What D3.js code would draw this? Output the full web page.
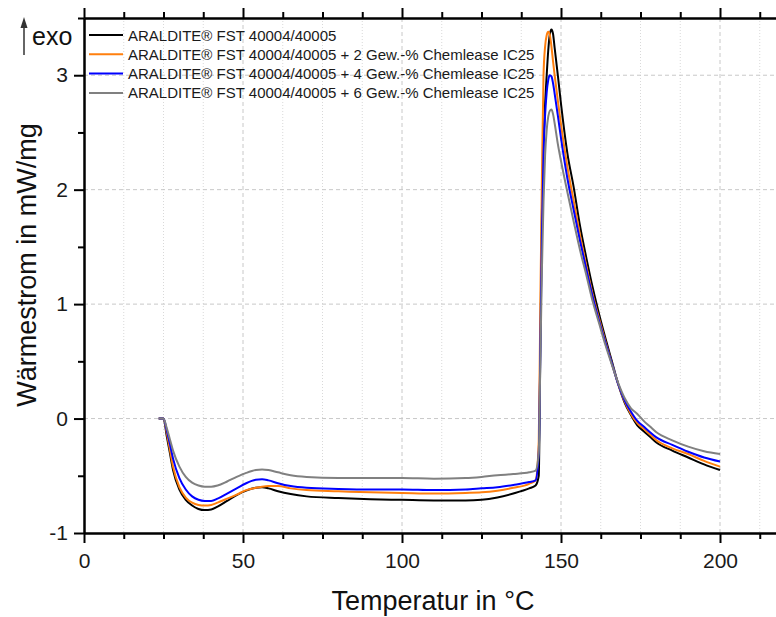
<!DOCTYPE html>
<html>
<head>
<meta charset="utf-8">
<style>
  body { margin: 0; background: white; font-family: "Liberation Sans", Arial, sans-serif; }
  svg { display: block; }
</style>
</head>
<body>
<svg id="chart"></svg>
<script src="https://cdn.jsdelivr.net/npm/d3@7/dist/d3.min.js"></script>
<script>
// temperature points (°C) shared by all four curves
var temps = [23.5, 25, 26, 27, 28, 30, 32, 34, 36, 38, 40, 42, 45, 48, 51, 54, 56, 58, 61, 65, 70, 80, 90, 100, 110, 120, 125, 130, 135, 140, 142, 143, 143.5, 144, 144.5, 145, 145.5, 146, 146.5, 147, 147.5, 148, 149, 150, 152, 154, 156, 158, 160, 162, 164, 166, 168, 170, 172, 174, 176, 178, 180, 185, 190, 195, 200];

// heat flow (mW/mg) for each sample
var pure = [0, 0, -0.15, -0.3, -0.45, -0.62, -0.71, -0.76, -0.79, -0.8, -0.795, -0.77, -0.72, -0.67, -0.63, -0.605, -0.6, -0.61, -0.635, -0.66, -0.68, -0.695, -0.705, -0.71, -0.715, -0.715, -0.71, -0.69, -0.655, -0.61, -0.585, -0.5, 0.6, 1.8, 2.4, 2.75, 3.0, 3.22, 3.36, 3.4, 3.36, 3.24, 3.0, 2.75, 2.32, 2.02, 1.68, 1.4, 1.14, 0.91, 0.7, 0.5, 0.3, 0.14, 0.03, -0.06, -0.11, -0.16, -0.21, -0.28, -0.34, -0.4, -0.45];
var plus2 = [0, 0, -0.12, -0.27, -0.42, -0.6, -0.69, -0.735, -0.755, -0.76, -0.755, -0.735, -0.7, -0.665, -0.625, -0.605, -0.595, -0.59, -0.59, -0.61, -0.625, -0.635, -0.645, -0.65, -0.655, -0.65, -0.645, -0.63, -0.605, -0.57, -0.54, -0.2, 1.0, 2.1, 3.0, 3.25, 3.35, 3.38, 3.35, 3.25, 3.12, 3.0, 2.78, 2.57, 2.2, 1.9, 1.6, 1.33, 1.08, 0.87, 0.67, 0.48, 0.3, 0.15, 0.04, -0.04, -0.09, -0.14, -0.19, -0.26, -0.31, -0.37, -0.42];
var plus4 = [0, 0, -0.1, -0.22, -0.35, -0.52, -0.62, -0.68, -0.71, -0.72, -0.72, -0.7, -0.655, -0.61, -0.565, -0.535, -0.53, -0.54, -0.565, -0.59, -0.605, -0.615, -0.62, -0.62, -0.625, -0.62, -0.61, -0.6, -0.58, -0.555, -0.54, -0.3, 0.6, 1.6, 2.3, 2.65, 2.85, 2.96, 3.0, 2.99, 2.93, 2.84, 2.65, 2.45, 2.1, 1.82, 1.55, 1.3, 1.06, 0.85, 0.66, 0.48, 0.3, 0.16, 0.06, -0.02, -0.07, -0.12, -0.165, -0.23, -0.29, -0.34, -0.375];
var plus6 = [0, 0, -0.08, -0.18, -0.28, -0.42, -0.51, -0.56, -0.585, -0.595, -0.595, -0.585, -0.55, -0.51, -0.475, -0.45, -0.445, -0.45, -0.47, -0.495, -0.51, -0.52, -0.52, -0.52, -0.525, -0.52, -0.51, -0.495, -0.485, -0.47, -0.455, -0.3, 0.5, 1.3, 1.9, 2.3, 2.52, 2.64, 2.69, 2.7, 2.66, 2.58, 2.4, 2.25, 1.98, 1.72, 1.47, 1.25, 1.02, 0.83, 0.64, 0.47, 0.31, 0.18, 0.09, 0.04, -0.02, -0.07, -0.12, -0.19, -0.245, -0.285, -0.31];

var seriesNames = [
  "ARALDITE® FST 40004/40005",
  "ARALDITE® FST 40004/40005 + 2 Gew.-% Chemlease IC25",
  "ARALDITE® FST 40004/40005 + 4 Gew.-% Chemlease IC25",
  "ARALDITE® FST 40004/40005 + 6 Gew.-% Chemlease IC25"
];
var seriesColors = ["#000000", "#ff7f0e", "#0000ff", "#808080"];
var seriesValues = [pure, plus2, plus4, plus6];

var xMajor = [0, 50, 100, 150, 200];
var yMajor = [-1, 0, 1, 2, 3];

var width = 776, height = 617;
var svg = d3.select("#chart").attr("width", width).attr("height", height);

var x = d3.scaleLinear().domain([0, 220]).range([84, 783.6]);
var y = d3.scaleLinear().domain([-1, 3.5]).range([533, 18]);

var xMinor = d3.range(0, 221, 12.5).filter(function(d){ return d % 50 != 0; });
var yMinor = [-0.5, 0.5, 1.5, 2.5, 3.5];

// grid
var grid = svg.append("g");
grid.selectAll(".vminor").data(xMinor).join("line")
  .attr("x1", d => x(d)).attr("x2", d => x(d))
  .attr("y1", y(3.5)).attr("y2", y(-1))
  .attr("stroke", "#d9d9d9").attr("stroke-width", 1).attr("stroke-dasharray", "1,2");
grid.selectAll(".vmajor").data(xMajor.filter(d => d > 0)).join("line")
  .attr("x1", d => x(d)).attr("x2", d => x(d))
  .attr("y1", y(3.5)).attr("y2", y(-1))
  .attr("stroke", "#c8c8c8").attr("stroke-width", 1).attr("stroke-dasharray", "4,3");
grid.selectAll(".hmajor").data(yMajor.filter(d => d > -1)).join("line")
  .attr("x1", x(0)).attr("x2", width)
  .attr("y1", d => y(d)).attr("y2", d => y(d))
  .attr("stroke", "#c8c8c8").attr("stroke-width", 1).attr("stroke-dasharray", "4,3");

// curves
var line = d3.line()
  .x(function(d){ return x(d[0]); })
  .y(function(d){ return y(d[1]); })
  .curve(d3.curveMonotoneX);

svg.append("g").selectAll("path")
  .data(seriesValues)
  .join("path")
  .attr("d", function(vals){ return line(temps.map(function(t, i){ return [t, vals[i]]; })); })
  .attr("fill", "none")
  .attr("stroke", function(d, i){ return seriesColors[i]; })
  .attr("stroke-width", 2)
  .attr("stroke-linejoin", "round");

// axes
function styleAxis(g) {
  g.selectAll("path.domain").attr("stroke", "#000").attr("stroke-width", 2);
  g.selectAll(".tick line").attr("stroke", "#000").attr("stroke-width", 2);
  g.selectAll(".tick text").attr("fill", "#1a1a1a").style("font-size", "21px")
    .style("font-family", "'Liberation Sans', Arial, sans-serif");
}

svg.append("g").attr("transform", "translate(0," + y(-1) + ")")
  .call(d3.axisBottom(x).tickValues(xMinor).tickSize(6).tickSizeOuter(0).tickFormat(""))
  .call(styleAxis);
svg.append("g").attr("transform", "translate(0," + y(-1) + ")")
  .call(d3.axisBottom(x).tickValues(xMajor).tickSize(10).tickPadding(10).tickSizeOuter(0).tickFormat(String))
  .call(styleAxis);

svg.append("g").attr("transform", "translate(0," + y(3.5) + ")")
  .call(d3.axisTop(x).tickValues(xMinor).tickSize(6).tickSizeOuter(0).tickFormat(""))
  .call(styleAxis);
svg.append("g").attr("transform", "translate(0," + y(3.5) + ")")
  .call(d3.axisTop(x).tickValues(xMajor).tickSize(10).tickSizeOuter(0).tickFormat(""))
  .call(styleAxis);

svg.append("g").attr("transform", "translate(" + x(0) + ",0)")
  .call(d3.axisLeft(y).tickValues(yMinor).tickSize(6).tickSizeOuter(0).tickFormat(""))
  .call(styleAxis);
svg.append("g").attr("transform", "translate(" + x(0) + ",0)")
  .call(d3.axisLeft(y).tickValues(yMajor).tickSize(10).tickPadding(6).tickSizeOuter(0).tickFormat(String))
  .call(styleAxis);

// axis titles
svg.append("text")
  .attr("x", 433).attr("y", 610)
  .attr("text-anchor", "middle")
  .style("font-size", "27px").attr("fill", "#111")
  .text("Temperatur in °C");

svg.append("text")
  .attr("transform", "translate(36,265) rotate(-90)")
  .attr("text-anchor", "middle")
  .style("font-size", "27px").attr("fill", "#111")
  .text("Wärmestrom in mW/mg");

// exo arrow
svg.append("line")
  .attr("x1", 24).attr("x2", 24).attr("y1", 26).attr("y2", 55)
  .attr("stroke", "#333").attr("stroke-width", 1.5);
svg.append("path")
  .attr("d", "M24,17 L20.5,28 L27.5,28 Z")
  .attr("fill", "#333");
svg.append("text")
  .attr("x", 32).attr("y", 45)
  .style("font-size", "25px").attr("fill", "#111")
  .text("exo");

// legend
var legend = svg.append("g").attr("transform", "translate(89,35)");
var rows = legend.selectAll("g").data(seriesNames).join("g")
  .attr("transform", function(d, i){ return "translate(0," + (i * 19.3) + ")"; });
rows.append("line")
  .attr("x1", 0).attr("x2", 34)
  .attr("stroke", function(d, i){ return seriesColors[i]; })
  .attr("stroke-width", 2);
rows.append("text")
  .attr("x", 39).attr("y", 5.5)
  .style("font-size", "15px").attr("fill", "#1a1a1a")
  .text(function(d){ return d; });
</script>
</body>
</html>
